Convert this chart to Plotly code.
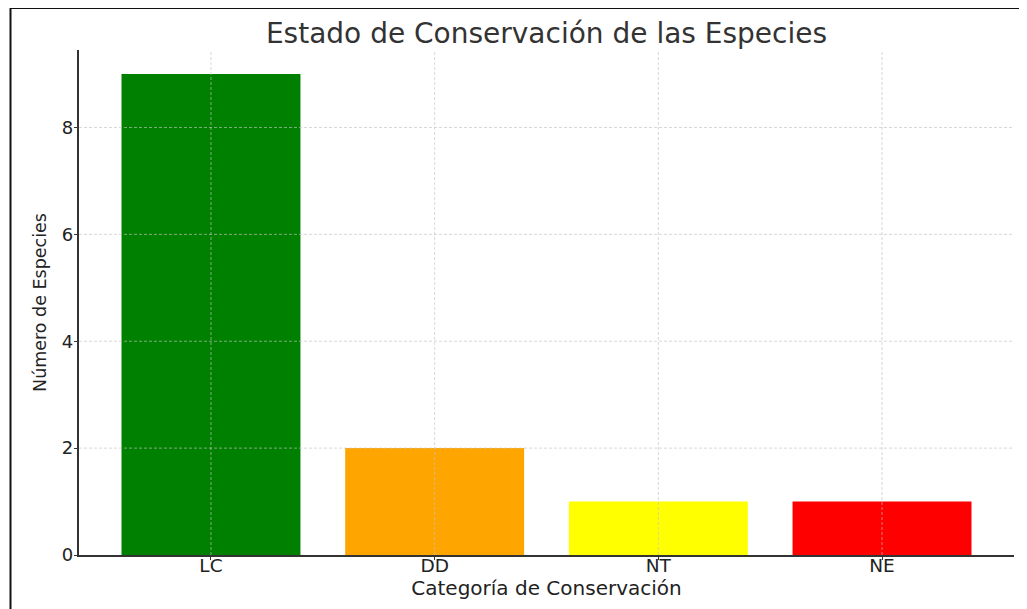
import plotly.graph_objects as go

categories = ["LC", "DD", "NT", "NE"]
counts = [9, 2, 1, 1]
bar_colors = ["#008000", "#FFA500", "#FFFF00", "#FF0000"]
y_ticks = [0, 2, 4, 6, 8]

# the page body adds an 8px offset, so the figure is laid out 8px up/left
W, H = 1019, 601
L, R, T, B = 71, 13, 42, 54
pw, ph = W - L - R, H - T - B

FONT = "DejaVu Sans"

fig = go.Figure()
fig.add_trace(go.Bar(
    x=categories, y=counts, width=0.8,
    marker=dict(color=bar_colors, line=dict(width=0)),
    showlegend=False,
))

grid_style = dict(color="rgba(195,195,195,0.65)", width=1, dash="3px,2px")
shapes = []
for c in categories:
    shapes.append(dict(type="line", xref="x", yref="paper", x0=c, x1=c, y0=0, y1=1,
                       line=grid_style, layer="above"))
for t in y_ticks[1:]:
    shapes.append(dict(type="line", xref="paper", yref="y", x0=0, x1=1, y0=t, y1=t,
                       line=grid_style, layer="above"))
# outer frame
shapes.append(dict(type="rect", xref="paper", yref="paper",
                   x0=(2.5 - L) / pw, x1=1.2, y0=-0.3, y1=(H - B + 0.0) / ph,
                   line=dict(color="#111111", width=2), layer="above"))

fig.update_layout(
    width=W, height=H,
    margin=dict(l=L, r=R, t=T, b=B),
    paper_bgcolor="white", plot_bgcolor="white",
    font=dict(family=FONT, color="#222222", size=18),
    title=dict(text="Estado de Conservación de las Especies",
               font=dict(family=FONT, size=28, color="#333333"),
               x=(L + pw / 2) / W, xanchor="center", xref="container",
               y=1 - 25 / H, yanchor="middle", yref="container"),
    shapes=shapes,
    bargap=0.2,
)
fig.update_xaxes(
    type="category", range=[-0.59, 3.59],
    showgrid=False, showline=True, linecolor="#333333", linewidth=1.5,
    ticks="outside", ticklen=3.5, tickcolor="#333333",
    tickfont=dict(size=18.5, color="#222222"), ticklabelstandoff=-10,
    title=dict(text="Categoría de Conservación", font=dict(size=20, color="#222222"), standoff=0),
    zeroline=False,
)
fig.update_yaxes(
    range=[0, 9.45], tickvals=y_ticks,
    showgrid=False, showline=True, linecolor="#333333", linewidth=1.5,
    ticks="outside", ticklen=3.5, tickcolor="#333333",
    tickfont=dict(size=18, color="#222222"), ticklabelstandoff=-3,
    title=dict(text="Número de Especies", font=dict(size=17.5, color="#222222"), standoff=11),
    zeroline=False,
)

fig.write_html("out.html")
